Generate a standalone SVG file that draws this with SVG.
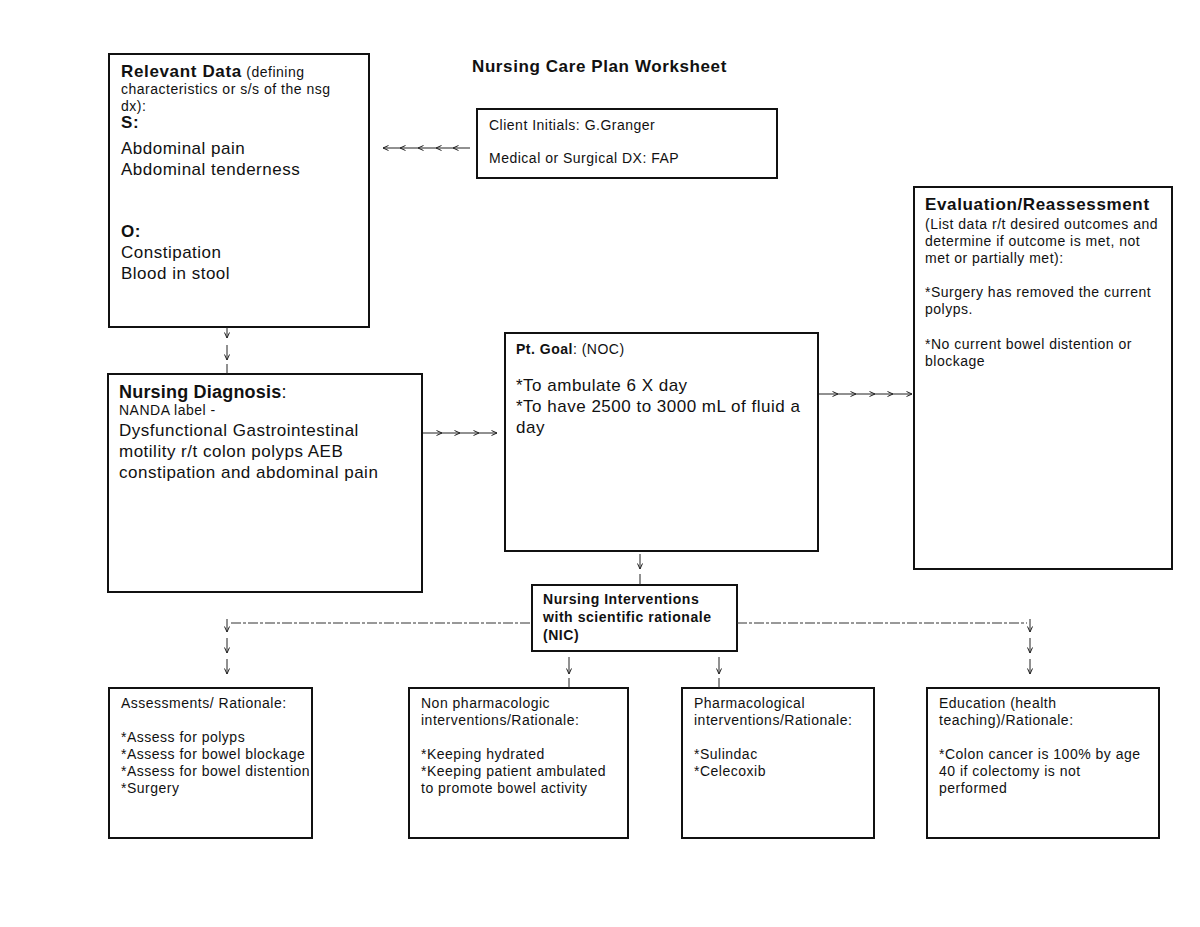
<svg xmlns="http://www.w3.org/2000/svg" width="1200" height="927" viewBox="0 0 1200 927">
<style>
text{font-family:"Liberation Sans",Arial,sans-serif;fill:#111}
.box{fill:#fff;stroke:#111;stroke-width:2}
.b{font-weight:bold}
.s13{font-size:14px;letter-spacing:0.5px}
.s16{font-size:17px;letter-spacing:0.5px}
.bh{font-size:17px;font-weight:bold;letter-spacing:0.65px}
.nic{font-size:14px;font-weight:bold;letter-spacing:0.55px}
.ln{stroke:#222;stroke-width:1;fill:none}
.dash{stroke:#333;stroke-width:1;fill:none;stroke-dasharray:10 2 3 2}
</style>
<defs>
<marker id="ah" viewBox="0 0 8 8" refX="7" refY="4" markerWidth="8" markerHeight="8" markerUnits="userSpaceOnUse" orient="auto">
<path d="M1.5,1.5 L7,4 L1.5,6.5" fill="none" stroke="#222" stroke-width="1"/>
</marker>
</defs>
<rect width="1200" height="927" fill="#fff"/>
<text x="472" y="72" class="b" font-size="17" letter-spacing="0.6">Nursing Care Plan Worksheet</text>

<g id="relevant-data">
<rect class="box" x="109" y="54" width="260" height="273"/>
<text x="121" y="77" class="s13"><tspan class="bh">Relevant Data</tspan> (defining</text>
<text x="121" y="94" class="s13">characteristics or s/s of the nsg</text>
<text x="121" y="111" class="s13">dx):</text>
<text x="121" y="128" class="bh">S:</text>
<text x="121" y="154" class="s16">Abdominal pain</text>
<text x="121" y="175" class="s16">Abdominal tenderness</text>
<text x="121" y="237" class="bh">O:</text>
<text x="121" y="258" class="s16">Constipation</text>
<text x="121" y="279" class="s16">Blood in stool</text>
</g>

<g id="client">
<rect class="box" x="477" y="109" width="300" height="69"/>
<text x="489" y="130" class="s13">Client Initials: G.Granger</text>
<text x="489" y="163" class="s13">Medical or Surgical DX: FAP</text>
</g>

<g id="nursing-diagnosis">
<rect class="box" x="108" y="374" width="314" height="218"/>
<text x="119" y="398" font-size="18" letter-spacing="0.2"><tspan class="b">Nursing Diagnosis</tspan>:</text>
<text x="119" y="415" class="s13">NANDA label -</text>
<text x="119" y="436" class="s16">Dysfunctional Gastrointestinal</text>
<text x="119" y="457" class="s16">motility r/t colon polyps AEB</text>
<text x="119" y="478" class="s16">constipation and abdominal pain</text>
</g>

<g id="pt-goal">
<rect class="box" x="505" y="333" width="313" height="218"/>
<text x="516" y="354" class="s13"><tspan class="b">Pt. Goal</tspan>: (NOC)</text>
<text x="516" y="391" class="s16">*To ambulate 6 X day</text>
<text x="516" y="412" class="s16">*To have 2500 to 3000 mL of fluid a</text>
<text x="516" y="433" class="s16">day</text>
</g>

<g id="evaluation">
<rect class="box" x="914" y="187" width="258" height="382"/>
<text x="925" y="210" class="bh">Evaluation/Reassessment</text>
<text x="925" y="229" class="s13">(List data r/t desired outcomes and</text>
<text x="925" y="246" class="s13">determine if outcome is met, not</text>
<text x="925" y="263" class="s13">met or partially met):</text>
<text x="925" y="297" class="s13">*Surgery has removed the current</text>
<text x="925" y="314" class="s13">polyps.</text>
<text x="925" y="349" class="s13">*No current bowel distention or</text>
<text x="925" y="366" class="s13">blockage</text>
</g>

<g id="nic">
<rect class="box" x="532" y="585" width="205" height="66"/>
<text x="543" y="604" class="nic">Nursing Interventions</text>
<text x="543" y="622" class="nic">with scientific rationale</text>
<text x="543" y="640" class="nic">(NIC)</text>
</g>

<g id="assessments">
<rect class="box" x="109" y="688" width="203" height="150"/>
<text x="121" y="708" class="s13">Assessments/ Rationale:</text>
<text x="121" y="742" class="s13">*Assess for polyps</text>
<text x="121" y="759" class="s13">*Assess for bowel blockage</text>
<text x="121" y="776" class="s13">*Assess for bowel distention</text>
<text x="121" y="793" class="s13">*Surgery</text>
</g>

<g id="non-pharm">
<rect class="box" x="409" y="688" width="219" height="150"/>
<text x="421" y="708" class="s13">Non pharmacologic</text>
<text x="421" y="725" class="s13">interventions/Rationale:</text>
<text x="421" y="759" class="s13">*Keeping hydrated</text>
<text x="421" y="776" class="s13">*Keeping patient ambulated</text>
<text x="421" y="793" class="s13">to promote bowel activity</text>
</g>

<g id="pharm">
<rect class="box" x="682" y="688" width="192" height="150"/>
<text x="694" y="708" class="s13">Pharmacological</text>
<text x="694" y="725" class="s13">interventions/Rationale:</text>
<text x="694" y="759" class="s13">*Sulindac</text>
<text x="694" y="776" class="s13">*Celecoxib</text>
</g>

<g id="education">
<rect class="box" x="927" y="688" width="232" height="150"/>
<text x="939" y="708" class="s13">Education (health</text>
<text x="939" y="725" class="s13">teaching)/Rationale:</text>
<text x="939" y="759" class="s13">*Colon cancer is 100% by age</text>
<text x="939" y="776" class="s13">40 if colectomy is not</text>
<text x="939" y="793" class="s13">performed</text>
</g>

<g id="connectors">
<!-- client -> relevant data -->
<path class="ln" marker-end="url(#ah)" d="M470,148 H453"/>
<path class="ln" marker-end="url(#ah)" d="M453,148 H436"/>
<path class="ln" marker-end="url(#ah)" d="M436,148 H418"/>
<path class="ln" marker-end="url(#ah)" d="M418,148 H400"/>
<path class="ln" marker-end="url(#ah)" d="M400,148 H383"/>
<!-- relevant data -> diagnosis -->
<path class="ln" marker-end="url(#ah)" d="M227,327 V338"/>
<path class="ln" marker-end="url(#ah)" d="M227,345 V360"/>
<path class="ln" d="M227,364 V374"/>
<!-- diagnosis -> goal -->
<path class="ln" marker-end="url(#ah)" d="M423,433 H442"/>
<path class="ln" marker-end="url(#ah)" d="M442,433 H460"/>
<path class="ln" marker-end="url(#ah)" d="M460,433 H479"/>
<path class="ln" marker-end="url(#ah)" d="M479,433 H497"/>
<!-- goal -> evaluation -->
<path class="ln" marker-end="url(#ah)" d="M819,394 H838"/>
<path class="ln" marker-end="url(#ah)" d="M838,394 H856"/>
<path class="ln" marker-end="url(#ah)" d="M856,394 H875"/>
<path class="ln" marker-end="url(#ah)" d="M875,394 H893"/>
<path class="ln" marker-end="url(#ah)" d="M893,394 H912"/>
<!-- goal -> NIC -->
<path class="ln" marker-end="url(#ah)" d="M640,554 V569"/>
<path class="ln" d="M640,574 V585"/>
<!-- NIC branches -->
<path class="dash" d="M231,623 H532"/>
<path class="dash" d="M737,623 H1027"/>
<path class="ln" marker-end="url(#ah)" d="M227,619 V632"/>
<path class="ln" marker-end="url(#ah)" d="M227,638 V653"/>
<path class="ln" marker-end="url(#ah)" d="M227,659 V674"/>
<path class="ln" marker-end="url(#ah)" d="M1030,619 V632"/>
<path class="ln" marker-end="url(#ah)" d="M1030,638 V653"/>
<path class="ln" marker-end="url(#ah)" d="M1030,659 V674"/>
<path class="ln" marker-end="url(#ah)" d="M569,657 V674"/>
<path class="ln" d="M569,678 V688"/>
<path class="ln" marker-end="url(#ah)" d="M719,657 V674"/>
<path class="ln" d="M719,678 V688"/>
</g>
</svg>
